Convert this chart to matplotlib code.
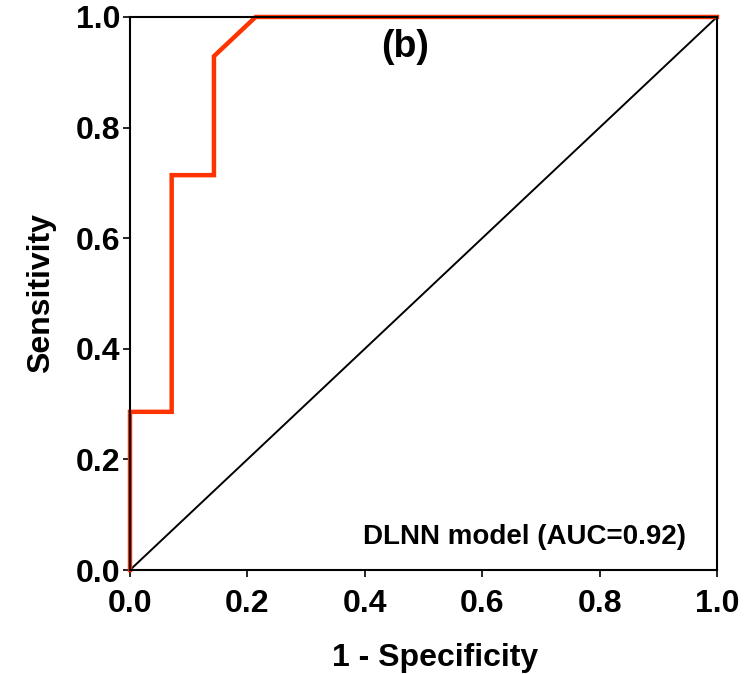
import numpy as np
import matplotlib
matplotlib.use("Agg")
import matplotlib.pyplot as plt

# ROC curve of the DLNN model
fpr = [0.0, 0.0, 0.071, 0.071, 0.143, 0.143, 0.214, 1.0]
tpr = [0.0, 0.286, 0.286, 0.714, 0.714, 0.929, 1.0, 1.0]
ref_line = [0.0, 1.0]
ticks = [0.0, 0.2, 0.4, 0.6, 0.8, 1.0]
tick_labels = ["0.0", "0.2", "0.4", "0.6", "0.8", "1.0"]

plt.rcParams['font.family'] = ['Liberation Sans', 'DejaVu Sans']
plt.rcParams['font.weight'] = 'bold'

fig = plt.figure(figsize=(7.51, 6.74), dpi=100)
ax = fig.add_axes([0.1731, 0.1543, 0.7816, 0.8205])

ax.plot(ref_line, ref_line, color='black', lw=1.4, zorder=2)
ax.plot(fpr, tpr, color='#ff3300', lw=3.2, zorder=3, clip_on=False, solid_joinstyle='miter')

ax.set_xlim(0, 1)
ax.set_ylim(0, 1)
ax.set_xticks(ticks)
ax.set_xticklabels(tick_labels)
ax.set_yticks(ticks)
ax.set_yticklabels(tick_labels)
ax.tick_params(direction='out', length=5, width=1.2, labelsize=23)
ax.tick_params(axis='x', pad=9)
ax.tick_params(axis='y', pad=2)
for s in ax.spines.values():
    s.set_linewidth(1.5)
    s.set_zorder(4)

ax.set_xlabel('1 - Specificity', fontsize=23, fontweight='bold', labelpad=17)
ax.set_ylabel('Sensitivity', fontsize=23, fontweight='bold', labelpad=14)
ax.xaxis.label.set_x(0.52)

ax.text(0.468, 0.946, '(b)', fontsize=27, fontweight='bold', ha='center', va='center')
ax.text(0.947, 0.06, 'DLNN model (AUC=0.92)', fontsize=20, fontweight='bold',
        ha='right', va='center')

fig.savefig('out.png', dpi=100)
